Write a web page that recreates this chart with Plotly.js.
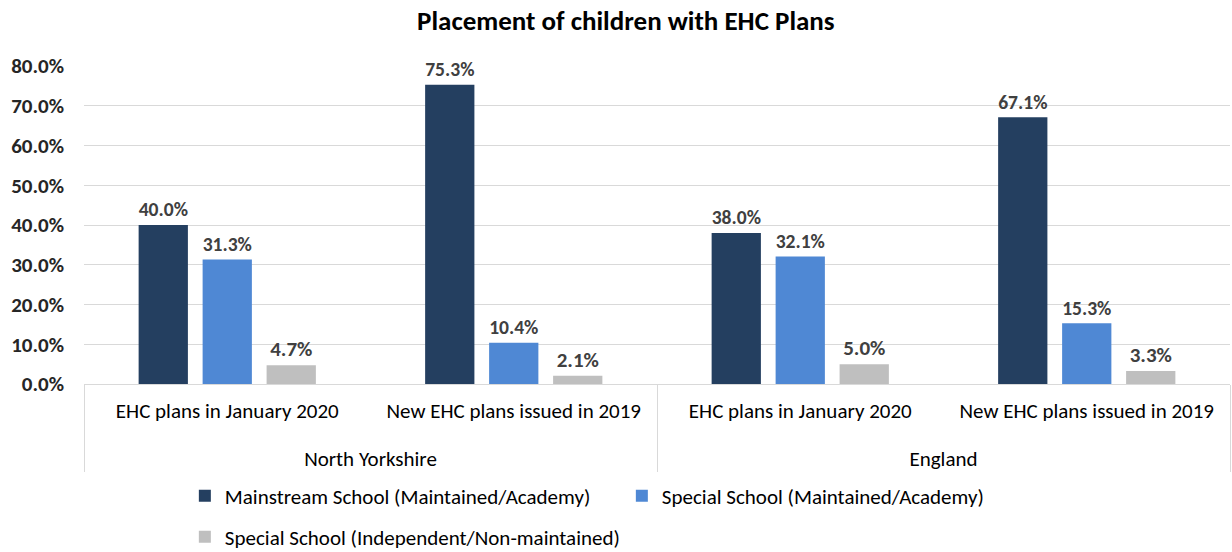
<!DOCTYPE html>
<html>
<head>
<meta charset="utf-8">
<script src="https://cdn.plot.ly/plotly-3.0.1.min.js"></script>
<style>html,body{margin:0;padding:0;background:#fff;}#chart{width:1232px;height:552px;}</style>
</head>
<body>
<div id="chart"></div>
<script>
const regions = ["North Yorkshire", "North Yorkshire", "England", "England"];
const periods = ["EHC plans in January 2020", "New EHC plans issued in 2019", "EHC plans in January 2020", "New EHC plans issued in 2019"];
const seriesNames = ["Mainstream School (Maintained/Academy)", "Special School (Maintained/Academy)", "Special School (Independent/Non-maintained)"];
const mainstream = [40.0, 75.3, 38.0, 67.1];
const specialMaintained = [31.3, 10.4, 32.1, 15.3];
const specialIndependent = [4.7, 2.1, 5.0, 3.3];
const colors = ["#243F60", "#4F88D4", "#BFBFBF"];
const legendIds = ["legend", "legend", "legend2"];

const FONT = "Carlito, Calibri, 'Liberation Sans Narrow', 'Open Sans', sans-serif";
const values = [mainstream, specialMaintained, specialIndependent];
const regionLabels = regions.map(r => "<br>" + r);

const traces = values.map((v, i) => ({
  type: "bar",
  name: seriesNames[i],
  legend: legendIds[i],
  x: [regionLabels, periods],
  y: v,
  marker: {color: colors[i]},
  text: v.map(d => d.toFixed(1) + "%"),
  textposition: "outside",
  textfont: {family: FONT, size: 21, color: "#404040", weight: "bold"},
  cliponaxis: false,
  hoverinfo: "skip"
}));

const legendBase = {orientation: "h", x: 0.088, xanchor: "left", yanchor: "middle", yref: "container",
  font: {family: FONT, size: 21, color: "#000"},
  entrywidth: 392, entrywidthmode: "pixels", bgcolor: "rgba(0,0,0,0)"};

const layout = {
  width: 1232, height: 552,
  margin: {l: 84, r: 2, t: 66, b: 168},
  paper_bgcolor: "#fff", plot_bgcolor: "#fff",
  title: {text: "Placement of children with EHC Plans", x: 0.508, xanchor: "center", y: 0.963, yanchor: "middle",
          font: {family: FONT, size: 27, color: "#000", weight: "bold"}},
  barmode: "group",
  bargap: 0.33,
  bargroupgap: 0.23,
  showlegend: true,
  legend: Object.assign({}, legendBase, {y: 0.1014}),
  legend2: Object.assign({}, legendBase, {y: 0.0272}),
  xaxis: {
    type: "multicategory",
    showline: true, linecolor: "#D9D9D9", linewidth: 1,
    showdividers: true, dividercolor: "#D9D9D9", dividerwidth: 1,
    ticklabelstandoff: 8,
    tickfont: {family: FONT, size: 21, color: "#000"},
    showgrid: false, fixedrange: true
  },
  yaxis: {
    range: [0, 80],
    dtick: 10,
    tickformat: ".1f",
    ticksuffix: "%",
    showgrid: true, gridcolor: "#D9D9D9", gridwidth: 1,
    zeroline: false,
    showline: false,
    ticklabelstandoff: 19,
    tickfont: {family: FONT, size: 21, color: "#262626", weight: "bold"},
    fixedrange: true
  }
};

Plotly.newPlot("chart", traces, layout, {displayModeBar: false, staticPlot: true});
</script>
</body>
</html>
